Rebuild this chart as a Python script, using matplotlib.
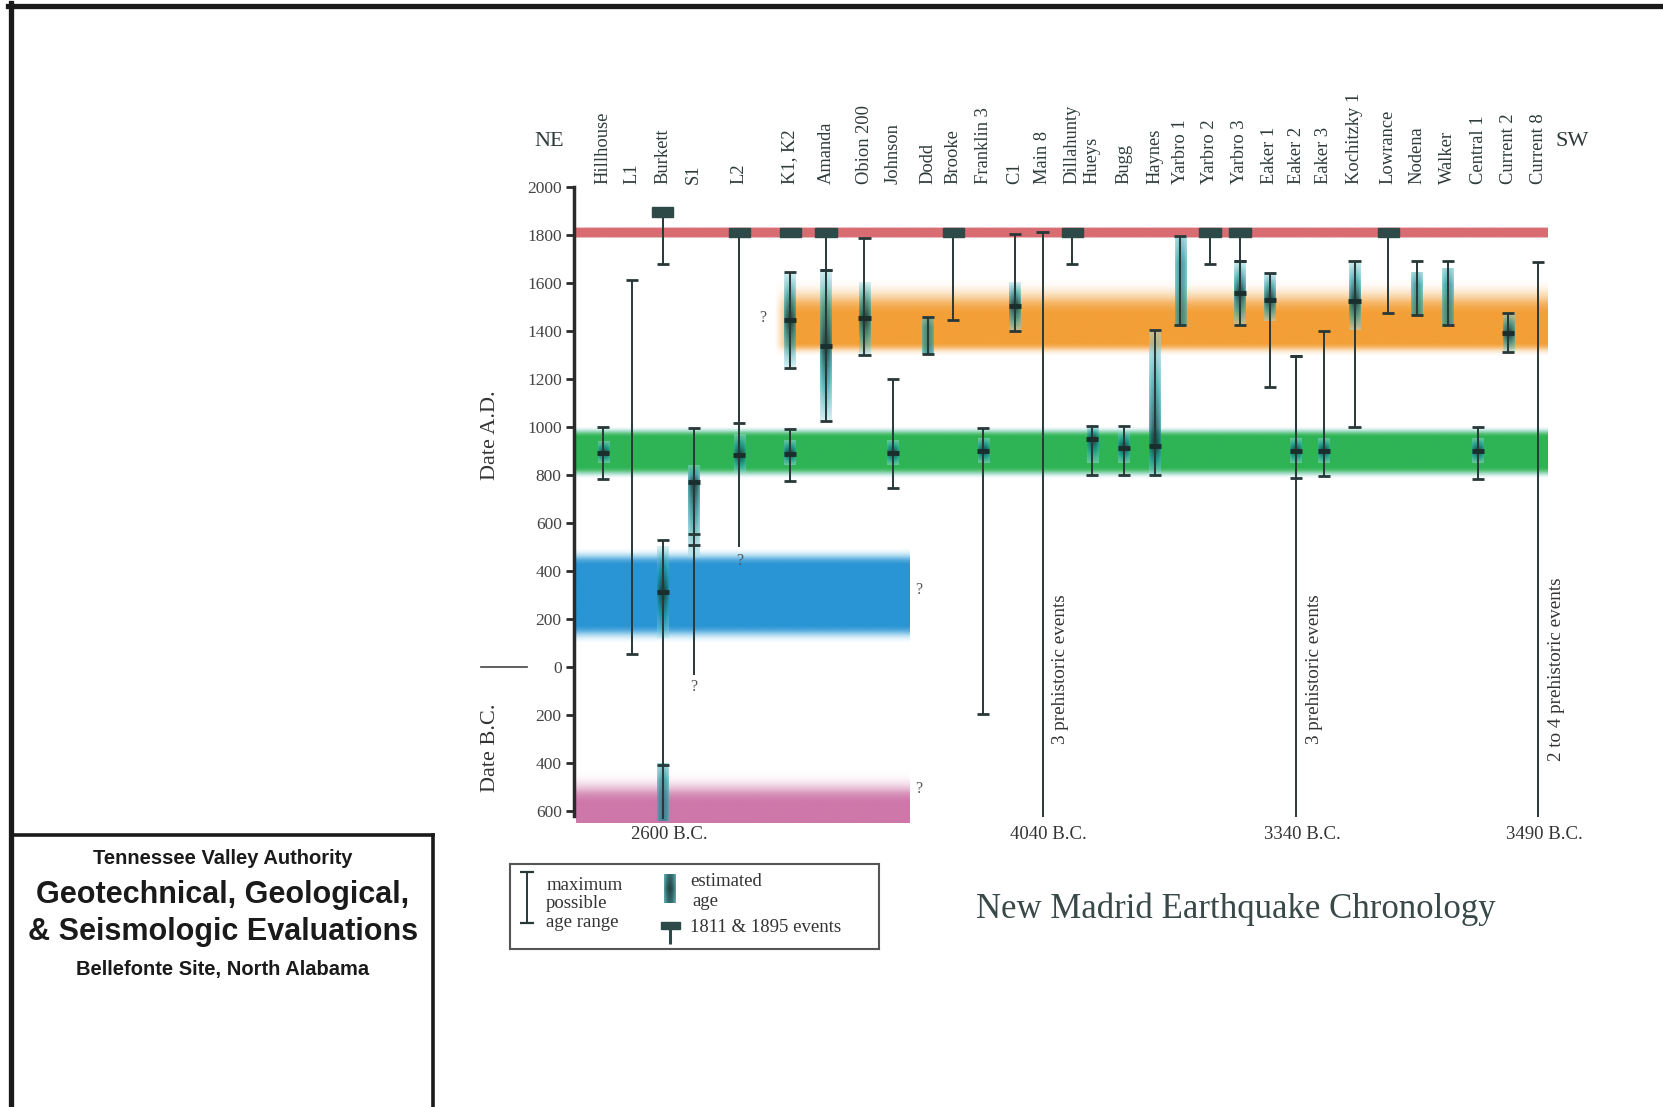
import numpy as np
import matplotlib
matplotlib.use('Agg')
import matplotlib.pyplot as plt
from matplotlib.colors import to_rgb
from matplotlib.lines import Line2D
from matplotlib.patches import Rectangle

plt.rcParams['font.family'] = ['Liberation Serif', 'DejaVu Serif']

# sites from NE to SW
sites = ['Hillhouse', 'L1', 'Burkett', 'S1', 'L2', 'K1, K2', 'Amanda', 'Obion 200',
         'Johnson', 'Dodd', 'Brooke', 'Franklin 3', 'C1', 'Main 8', 'Dillahunty',
         'Hueys', 'Bugg', 'Haynes', 'Yarbro 1', 'Yarbro 2', 'Yarbro 3', 'Eaker 1',
         'Eaker 2', 'Eaker 3', 'Kochitzky 1', 'Lowrance', 'Nodena', 'Walker',
         'Central 1', 'Current 2', 'Current 8']
# horizontal slot of each site (sites are not evenly spaced in the figure)
site_x = [0.96, 1.91, 2.93, 3.95, 5.46, 7.14, 8.33, 9.6, 10.54, 11.7, 12.54, 13.53,
          14.58, 15.49, 16.47, 17.14, 18.19, 19.21, 20.05, 21.03, 22.02, 23.0, 23.88,
          24.79, 25.81, 26.93, 27.88, 28.89, 29.9, 30.9, 31.88]

# years, negative = B.C.
# maximum possible age range (capped at both ends)
max_ranges = [('Hillhouse', 783, 1000), ('L1', 55, 1612), ('Burkett', 1680, 1895),
              ('K1, K2', 1247, 1645), ('K1, K2', 776, 993), ('Amanda', 1655, 1811),
              ('Amanda', 1025, 1655), ('Obion 200', 1298, 1788), ('Johnson', 746, 1199),
              ('Dodd', 1302, 1457), ('Brooke', 1445, 1811), ('Franklin 3', -197, 997),
              ('C1', 1400, 1805), ('Dillahunty', 1680, 1811), ('Hueys', 801, 1003),
              ('Bugg', 801, 1003), ('Haynes', 800, 1402), ('Yarbro 1', 1425, 1795),
              ('Yarbro 2', 1680, 1811), ('Yarbro 3', 1690, 1811), ('Yarbro 3', 1425, 1690),
              ('Eaker 1', 1166, 1643), ('Eaker 2', 787, 1296), ('Eaker 3', 797, 1400),
              ('Kochitzky 1', 1000, 1692), ('Lowrance', 1474, 1811), ('Nodena', 1465, 1692),
              ('Walker', 1425, 1692), ('Central 1', 783, 1000), ('Current 2', 1313, 1474)]
# ranges open at the lower end (run off the chart or end in "?")
open_ranges = [('Burkett', -635, 528), ('S1', -35, 995), ('L2', 500, 1811),
               ('Main 8', -625, 1811), ('Eaker 2', -625, 1296), ('Current 8', -625, 1689)]
extra_caps = [('Burkett', -410), ('S1', 556), ('S1', 507), ('L2', 1018)]
# estimated age (low, high, most likely)
est_ages = [('Hillhouse', 850, 940, 893), ('Burkett', 120, 500, 312), ('Burkett', -640, -400, None),
            ('S1', 460, 840, 771), ('L2', 810, 970, 885), ('K1, K2', 1250, 1645, 1445),
            ('K1, K2', 840, 940, 888), ('Amanda', 1025, 1655, 1336), ('Obion 200', 1300, 1600, 1452),
            ('Johnson', 840, 940, 890), ('Dodd', 1302, 1457, None), ('Franklin 3', 850, 950, 899),
            ('C1', 1400, 1600, 1506), ('Hueys', 850, 1000, 948), ('Bugg', 850, 980, 913),
            ('Haynes', 800, 1400, 920), ('Yarbro 1', 1425, 1795, None), ('Yarbro 3', 1425, 1690, 1559),
            ('Eaker 1', 1440, 1643, 1530), ('Eaker 2', 850, 950, 900), ('Eaker 3', 850, 950, 900),
            ('Kochitzky 1', 1404, 1692, 1523), ('Nodena', 1465, 1640, None), ('Walker', 1425, 1660, None),
            ('Central 1', 850, 950, 900), ('Current 2', 1313, 1474, 1390)]
# historic events (1811 & 1895)
events = [('Burkett', 1895), ('L2', 1811), ('K1, K2', 1811), ('Amanda', 1811), ('Brooke', 1811),
          ('Dillahunty', 1811), ('Yarbro 2', 1811), ('Yarbro 3', 1811), ('Lowrance', 1811)]
qmarks = [(6.25, 1455), (5.46, 440), (3.95, -85), (11.4, 320), (11.4, -510)]
oldest = [('Burkett', '2600 B.C.'), ('Main 8', '4040 B.C.'), ('Eaker 2', '3340 B.C.'),
          ('Current 8', '3490 B.C.')]
prehistoric = [('Main 8', '3 prehistoric events'), ('Eaker 2', '3 prehistoric events'),
               ('Current 8', '2 to 4 prehistoric events')]

LINE = '#283838'
DARK = '#1b2e2e'


def sx(name):
    return site_x[sites.index(name)]


def blend(c1, c2, t):
    c1 = np.array(to_rgb(c1))
    c2 = np.array(to_rgb(c2))
    t = np.asarray(t)[..., None]
    return c1 * (1 - t) + c2 * t


def draw_band(ax, x0, x1, core_lo, core_hi, fade_lo, fade_hi, core_col, edge_col,
              peak=0.9, left_fade=0.0):
    lo = core_lo - fade_lo
    hi = core_hi + fade_hi
    ys = np.linspace(lo, hi, 300)
    xs = np.linspace(x0, x1, 400)
    v = np.ones_like(ys)
    if fade_lo > 0:
        m = ys < core_lo
        v[m] = (ys[m] - lo) / fade_lo
    if fade_hi > 0:
        m = ys > core_hi
        v[m] = (hi - ys[m]) / fade_hi
    v = v * v * (3 - 2 * v)
    h = np.ones_like(xs)
    if left_fade > 0:
        m = xs < x0 + left_fade
        h[m] = (xs[m] - x0) / left_fade
    img = np.zeros((len(ys), len(xs), 4))
    img[..., :3] = blend(edge_col, core_col, np.clip(v * 1.3, 0, 1))[:, None, :]
    img[..., 3] = v[:, None] * h[None, :] * peak
    ax.imshow(img, extent=[x0, x1, lo, hi], origin='lower', aspect='auto',
              interpolation='bilinear', zorder=1)


def draw_est(ax, x, lo, hi, ctr, w=0.38):
    ys = np.linspace(lo, hi, 200)
    xs = np.linspace(-1, 1, 11)
    if ctr is None:
        top = hi - 0.3 * (hi - lo)
        s = 0.62 - 0.3 * np.clip((ys - top) / (hi - top), 0, 1)
    else:
        d = np.where(ys >= ctr, (ys - ctr) / max(hi - ctr, 1), (ctr - ys) / max(ctr - lo, 1))
        s = np.clip(1 - d, 0, 1) ** 0.8
    s2 = s[:, None] * (1 - 0.35 * xs ** 2)[None, :]
    rgb = np.where(s2[..., None] < 0.5,
                   blend('#a8e0ea', '#1f9aa0', np.clip(s2 / 0.5, 0, 1)),
                   blend('#1f9aa0', '#163a3a', np.clip((s2 - 0.5) / 0.5, 0, 1)))
    alpha = (0.45 + 0.5 * s2)[..., None]
    img = np.concatenate([rgb, alpha], axis=-1)
    ax.imshow(img, extent=[x - w / 2, x + w / 2, lo, hi], origin='lower', aspect='auto',
              interpolation='bilinear', zorder=2)


fig = plt.figure(figsize=(16.63, 11.07), dpi=100)
ax = fig.add_axes([0.3453, 0.2544, 0.5999, 0.5767])

# colour bands
draw_band(ax, 0.05, 32.2, 1792, 1828, 4, 4, '#d6646a', '#e08a8e', peak=0.95)
draw_band(ax, 6.6, 32.2, 1350, 1465, 60, 150, '#f39a2c', '#f9c98a', peak=0.95, left_fade=0.6)
draw_band(ax, 0.05, 32.2, 835, 960, 50, 45, '#22b04c', '#22a8a8', peak=0.95)
draw_band(ax, 0.05, 11.07, 175, 420, 80, 75, '#1d8fd2', '#66c6ee', peak=0.95)
draw_band(ax, 0.05, 11.07, -650, -570, 0, 140, '#c4609a', '#eec0d6', peak=0.85)

# estimated ages
for name, lo, hi, ctr in est_ages:
    draw_est(ax, sx(name), lo, hi, ctr)
    if ctr is not None:
        ax.hlines(ctr, sx(name) - 0.2, sx(name) + 0.2, color=DARK, lw=3.5, zorder=5)

# maximum possible age ranges
for name, lo, hi in max_ranges:
    x = sx(name)
    ax.vlines(x, lo, hi, color=LINE, lw=1.4, zorder=4)
    ax.hlines([lo, hi], x - 0.2, x + 0.2, color=LINE, lw=2, zorder=4)
for name, lo, hi in open_ranges:
    x = sx(name)
    ax.vlines(x, lo, hi, color=LINE, lw=1.4, zorder=4)
    ax.hlines(hi, x - 0.2, x + 0.2, color=LINE, lw=2, zorder=4)
for name, yr in extra_caps:
    ax.hlines(yr, sx(name) - 0.2, sx(name) + 0.2, color=LINE, lw=2, zorder=4)

# 1811 & 1895 events
for name, yr in events:
    ax.add_patch(Rectangle((sx(name) - 0.35, yr - 20), 0.7, 40, color='#2d4a48', zorder=6))

for qx, qy in qmarks:
    ax.text(qx, qy, '?', ha='center', va='center', fontsize=11.5, color='#555555')

for name, txt in oldest:
    ax.text(sx(name) + 0.2, -700, txt, ha='center', va='center', fontsize=13.5, color='#333333')
for name, txt in prehistoric:
    ax.text(sx(name) + 0.6, -10, txt, rotation=90, ha='center', va='center',
            fontsize=13.8, color='#333333')

# site names
for name, x in zip(sites, site_x):
    ax.text(x, 2012, name, rotation=90, ha='center', va='bottom', fontsize=13.3,
            color='#2f3b3b')
ax.text(-0.82, 2190, 'NE', ha='center', va='center', fontsize=16, color='#2f3b3b')
ax.text(33.0, 2190, 'SW', ha='center', va='center', fontsize=16, color='#2f3b3b')

# axis
ax.set_xlim(0, 33)
ax.set_ylim(-660, 2000)
for s in ['top', 'right', 'bottom']:
    ax.spines[s].set_visible(False)
ax.spines['left'].set_bounds(-620, 2000)
ax.spines['left'].set_linewidth(2.5)
ax.spines['left'].set_color('#2a2a2a')
ax.set_xticks([])
yt = list(range(-600, 2001, 200))
ax.set_yticks(yt)
ax.set_yticklabels([str(abs(v)) for v in yt])
ax.tick_params(axis='y', direction='out', length=6, width=2, labelsize=12.5,
               labelcolor='#444444', color='#2a2a2a', pad=3)
ax.patch.set_alpha(0)

ax.text(-2.76, 965, 'Date A.D.', rotation=90, ha='center', va='center', fontsize=16, color='#333333')
ax.text(-2.76, -337, 'Date B.C.', rotation=90, ha='center', va='center', fontsize=16, color='#333333')
ax.plot([-3.1, -1.57], [0, 0], color='#444444', lw=1.2, clip_on=False)

# chart title
fig.text(0.743, 0.1789, 'New Madrid Earthquake Chronology', ha='center', va='center',
         fontsize=25, color='#394848')

# legend box
lg = fig.add_axes([0.3067, 0.1427, 0.2219, 0.0768])
lg.set_xticks([])
lg.set_yticks([])
for s in lg.spines.values():
    s.set_color('#555555')
    s.set_linewidth(1.5)
lg.vlines(0.046, 0.31, 0.91, color=LINE, lw=1.4)
lg.hlines([0.31, 0.91], 0.026, 0.066, color=LINE, lw=1.6)
for yy, t in zip([0.75, 0.54, 0.31], ['maximum', 'possible', 'age range']):
    lg.text(0.098, yy, t, ha='left', va='center', fontsize=13.5, color='#333333')
draw_est(lg, 0.432, 0.54, 0.88, 0.71, w=0.032)
lg.set_xlim(0, 1)
lg.set_ylim(0, 1)
lg.text(0.489, 0.79, 'estimated', ha='left', va='center', fontsize=13.5, color='#333333')
lg.text(0.495, 0.56, 'age', ha='left', va='center', fontsize=13.5, color='#333333')
lg.add_patch(Rectangle((0.408, 0.24), 0.052, 0.08, color='#2d4a48'))
lg.vlines(0.434, 0.06, 0.25, color='#2d4a48', lw=2.2)
lg.text(0.489, 0.25, '1811 & 1895 events', ha='left', va='center', fontsize=13.5, color='#333333')

# page frame and title block
W, H = 1663.0, 1107.0
fig.add_artist(Line2D([8 / W, 1], [1 - 5.5 / H, 1 - 5.5 / H], color='#1a1a1a', lw=3.8,
                      transform=fig.transFigure))
fig.add_artist(Line2D([10.5 / W, 10.5 / W], [0, 1 - 3 / H], color='#1a1a1a', lw=3.8,
                      transform=fig.transFigure))
fig.add_artist(Line2D([10.5 / W, 433 / W], [1 - 835 / H, 1 - 835 / H], color='#1a1a1a', lw=2.6,
                      transform=fig.transFigure))
fig.add_artist(Line2D([433 / W, 433 / W], [0, 1 - 835 / H], color='#1a1a1a', lw=2.6,
                      transform=fig.transFigure))
tb = dict(ha='center', va='center', family=['Liberation Sans', 'DejaVu Sans'],
          fontweight='bold', color='#1a1a1a')
fig.text(0.134, 1 - 859 / H, 'Tennessee Valley Authority', fontsize=14.5, **tb)
fig.text(0.134, 1 - 895 / H, 'Geotechnical, Geological,', fontsize=22, **tb)
fig.text(0.134, 1 - 932 / H, '& Seismologic Evaluations', fontsize=22, **tb)
fig.text(0.134, 1 - 969 / H, 'Bellefonte Site, North Alabama', fontsize=14.5, **tb)

fig.savefig('out.png', dpi=100)
